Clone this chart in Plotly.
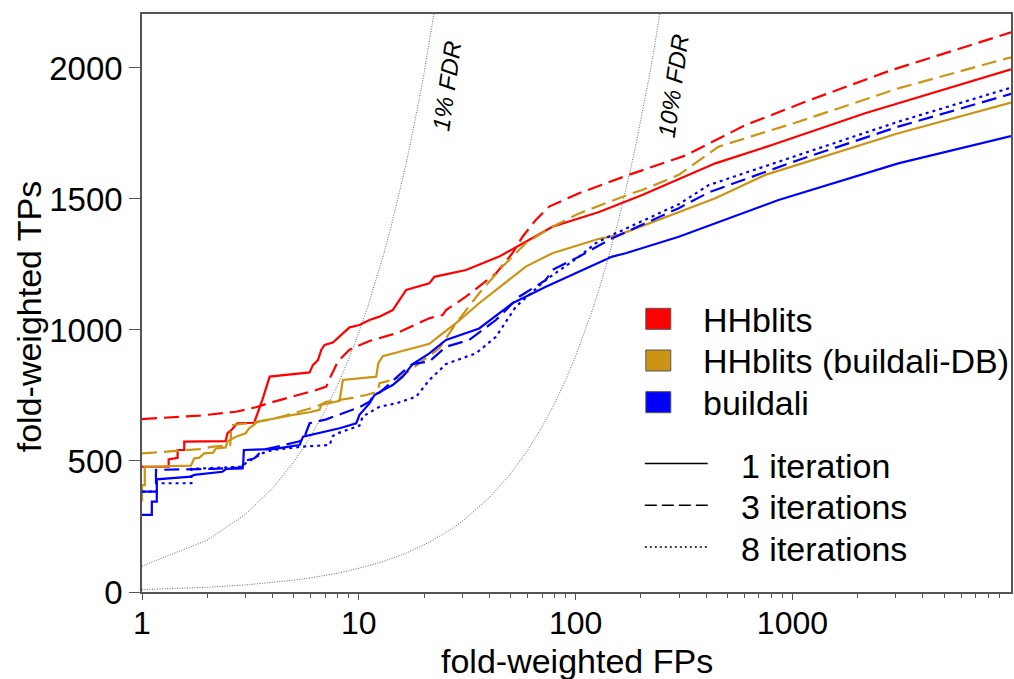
import plotly.graph_objects as go

# ROC-style curves: fold-weighted true positives vs. fold-weighted false positives
hh1_fp = [1, 1.327, 1.327, 1.46, 1.46, 1.566, 1.566, 2.43, 2.48, 2.6, 2.75, 3.29, 3.41, 3.59, 3.88,
          5.93, 6.14, 6.48, 6.71, 6.95, 7.59, 8.15, 8.69, 9.06, 10.07, 11.2, 12.45, 14.34, 16.53,
          21.15, 22.3, 31.2, 44.4, 54.9, 78.1, 128.2, 202.8, 441, 804, 2163, 10190]
hh1_tp = [478, 478, 506, 512, 542, 542, 574, 576, 606, 620, 644, 646, 682, 733, 822,
          838, 866, 885, 924, 943, 952, 974, 994, 1010, 1019, 1038, 1051, 1076, 1153,
          1178, 1203, 1229, 1280, 1324, 1394, 1450, 1515, 1636, 1706, 1827, 1995]

hh3_fp = [1, 1.835, 2.71, 3.35, 3.88, 5.33, 6.37, 7.08, 7.33, 7.7, 8.0, 9.06, 11.2, 14.86, 21.15,
          24.35, 25.25, 31.2, 35.9, 42.9, 51.1, 56.9, 65.5, 75.4, 103.7, 180, 321, 607, 1146, 2867, 10190]
hh3_tp = [660, 673, 688, 705, 722, 752, 771, 784, 815, 850, 880, 925, 958, 987, 1045,
          1057, 1076, 1127, 1165, 1216, 1293, 1356, 1420, 1471, 1522, 1595, 1666, 1782, 1871, 1992, 2136]

hdb1_fp = [1, 1, 1.03, 1.03, 1.68, 1.741, 1.835, 1.935, 2.13, 2.19, 2.43, 2.48, 2.71, 3.01, 3.12, 3.43,
           4.97, 5.93, 6.59, 6.71, 8.15, 8.44, 12.03, 12.3, 12.9, 15.39, 21.15, 24.35, 28.07,
           35.9, 46.0, 58.9, 78.1, 103.7, 128.2, 158.4, 441, 750, 3077, 10190]
hdb1_tp = [345, 408, 408, 478, 482, 510, 512, 529, 532, 548, 552, 574, 593, 606, 625, 650,
           676, 686, 695, 714, 730, 809, 822, 873, 900, 917, 947, 987, 1026,
           1102, 1172, 1242, 1293, 1324, 1348, 1363, 1503, 1592, 1751, 1868]

hdb3_fp = [1, 1.46, 1.835, 2.13, 2.55, 2.57, 2.57, 3.12, 4.14, 4.97, 6.37, 7.08, 9.06, 10.82, 12.23,
           12.45, 15.39, 16.53, 23.5, 28.07, 35.9, 46.0, 58.9, 78.1, 103.7, 182.4, 202.8, 299,
           457, 1067, 3077, 10190]
hdb3_tp = [529, 538, 545, 555, 560, 593, 637, 644, 663, 682, 707, 726, 739, 752, 765,
           797, 816, 835, 930, 1026, 1140, 1242, 1331, 1394, 1445, 1522, 1534, 1592,
           1700, 1795, 1922, 2041]

bd1_fp = [1, 1.11, 1.11, 1.17, 1.17, 1.68, 1.741, 2.13, 2.35, 2.45, 2.91, 2.93, 2.95, 4.0, 4.8,
          5.33, 5.53, 8.15, 9.73, 10.07, 11.2, 11.81, 13.37, 14.34, 15.94, 17.72, 21.15, 25.25,
          35.9, 51.1, 72.9, 103.7, 147.6, 170.1, 225.4, 299, 863, 3077, 10190]
bd1_tp = [294, 294, 345, 345, 430, 440, 447, 455, 459, 470, 472, 491, 542, 545, 555,
          561, 593, 625, 644, 676, 720, 752, 777, 790, 822, 870, 911, 962,
          1006, 1102, 1165, 1223, 1280, 1293, 1324, 1356, 1496, 1636, 1740]

bd3_fp = [1, 1.16, 1.16, 2.13, 2.9, 2.95, 3.3, 3.6, 5.33, 5.6, 5.93, 7.08, 8.44, 10.07, 11.2, 11.81,
          12.45, 15.94, 17.72, 21.15, 25.25, 32.3, 42.9, 54.9, 72.9, 78.1, 103.7, 147.6, 299,
          411, 1067, 3077, 10190]
bd3_tp = [383, 383, 466, 470, 475, 500, 510, 542, 575, 590, 644, 659, 682, 705, 726, 755,
          760, 840, 870, 880, 936, 962, 1038, 1127, 1191, 1229, 1280, 1350, 1465,
          1525, 1649, 1776, 1901]

bd8_fp = [1, 1.17, 1.17, 1.69, 1.69, 2.9, 3.0, 3.6, 4.0, 5.53, 7.33, 7.59, 8.01, 10.07, 10.43,
          12.45, 14.86, 18.37, 21.15, 25.25, 34.7, 42.9, 53.0, 72.9, 103.7, 123.7, 147.6, 299,
          411, 1067, 3077, 10190]
bd8_tp = [383, 383, 415, 415, 470, 478, 491, 530, 542, 555, 561, 595, 606, 635, 670,
          707, 720, 745, 809, 870, 911, 974, 1089, 1191, 1280, 1331, 1363, 1480,
          1553, 1668, 1795, 1925]

# false-discovery-rate guide lines, sampled at whole FP counts
fdr_levels = [0.01, 0.10]
fdr_fp = [list(range(1, 25)), list(range(1, 31)) + list(range(40, 300, 10))]

method_colors = {"HHblits": "#FF0000", "HHblits (buildali-DB)": "#CC9415", "buildali": "#0000FF"}
iteration_dash = {"1 iteration": "solid", "3 iterations": "15px,7px", "8 iterations": "3px,4px"}
legend_dash = {"1 iteration": "solid", "3 iterations": "12px,5px", "8 iterations": "2px,3px"}

curves = [
    (hh1_fp, hh1_tp, "HHblits", "1 iteration"),
    (hh3_fp, hh3_tp, "HHblits", "3 iterations"),
    (hdb1_fp, hdb1_tp, "HHblits (buildali-DB)", "1 iteration"),
    (hdb3_fp, hdb3_tp, "HHblits (buildali-DB)", "3 iterations"),
    (bd1_fp, bd1_tp, "buildali", "1 iteration"),
    (bd3_fp, bd3_tp, "buildali", "3 iterations"),
    (bd8_fp, bd8_tp, "buildali", "8 iterations"),
]

FONT = "Liberation Sans, Arial, Helvetica, sans-serif"

fig = go.Figure()

for q, fps in zip(fdr_levels, fdr_fp):
    tps = [fp * (1 - q) / q for fp in fps]
    fig.add_trace(go.Scatter(x=fps, y=tps, mode="lines", showlegend=False, hoverinfo="skip",
                             line=dict(color="#666666", width=1, dash="1px,1.5px")))

for fp, tp, method, it in curves:
    fig.add_trace(go.Scatter(x=fp, y=tp, mode="lines", name=f"{method}, {it}", showlegend=False,
                             line=dict(color=method_colors[method], width=2.2,
                                       dash=iteration_dash[it])))

# plot-area geometry in pixels, used to place the hand-built legend
L, T, W, H = 142, 14, 871, 578


def px(x):
    return (x - L) / W


def py(y):
    return (T + H - y) / H


shapes = []
annotations = []

# colour key
for i, (method, col) in enumerate(method_colors.items()):
    yc = 318.8 + i * 41.7
    shapes.append(dict(type="rect", xref="paper", yref="paper",
                       x0=px(647), x1=px(672), y0=py(yc + 10.5), y1=py(yc - 10.5),
                       fillcolor=col, line=dict(color="#555555", width=1)))
    annotations.append(dict(text=method, xref="paper", yref="paper", x=px(702), y=py(yc + 1),
                            xanchor="left", yanchor="middle", showarrow=False,
                            font=dict(family=FONT, size=34, color="black")))

# line-style key
for i, (it, dash) in enumerate(legend_dash.items()):
    yc = 463.5 + i * 41.7
    shapes.append(dict(type="line", xref="paper", yref="paper",
                       x0=px(646), x1=px(709), y0=py(yc), y1=py(yc),
                       line=dict(color="black", width=1.5, dash=dash)))
    annotations.append(dict(text=it, xref="paper", yref="paper", x=px(740), y=py(yc + 2),
                            xanchor="left", yanchor="middle", showarrow=False,
                            font=dict(family=FONT, size=34, color="black")))

# FDR labels
for label, xc in [("1% FDR", 447), ("10% FDR", 674)]:
    annotations.append(dict(text=label, xref="paper", yref="paper", x=px(xc), y=py(86),
                            xanchor="center", yanchor="middle", showarrow=False, textangle=-82,
                            font=dict(family=FONT, size=24, color="black", style="italic")))

# axis titles
annotations.append(dict(text="fold-weighted FPs", xref="paper", yref="paper", x=px(578), y=py(661),
                        xanchor="center", yanchor="middle", showarrow=False,
                        font=dict(family=FONT, size=34, color="black")))
annotations.append(dict(text="fold-weighted TPs", xref="paper", yref="paper", x=px(29), y=py(316),
                        xanchor="center", yanchor="middle", showarrow=False, textangle=-90,
                        font=dict(family=FONT, size=34, color="black")))

minor_vals = [m * 10 ** k for k in range(4) for m in range(2, 10)]

fig.update_layout(
    width=1014, height=679,
    margin=dict(l=L, r=1014 - L - W, t=T, b=679 - T - H),
    paper_bgcolor="white", plot_bgcolor="white",
    showlegend=False,
    shapes=shapes, annotations=annotations,
    font=dict(family=FONT, color="black"),
    xaxis=dict(type="log", range=[0, 4.008], tickvals=[1, 10, 100, 1000],
               ticktext=["1", "10", "100", "1000"], ticks="outside", ticklen=6, tickwidth=1.2,
               tickcolor="#555555", showgrid=False, zeroline=False, showline=True,
               linecolor="#555555", linewidth=1.5, mirror=True, ticklabelstandoff=-4,
               tickfont=dict(family=FONT, size=32, color="black"),
               minor=dict(tickvals=minor_vals, ticks="outside", ticklen=4, tickcolor="#555555",
                          showgrid=False)),
    yaxis=dict(range=[0, 2206], tickvals=[0, 500, 1000, 1500, 2000], ticks="outside", ticklen=11,
               tickwidth=1.2, tickcolor="#555555", showgrid=False, zeroline=False, showline=True,
               linecolor="#555555", linewidth=1.5, mirror=True,
               tickfont=dict(family=FONT, size=33, color="black")),
)

fig.write_html("out.html")
